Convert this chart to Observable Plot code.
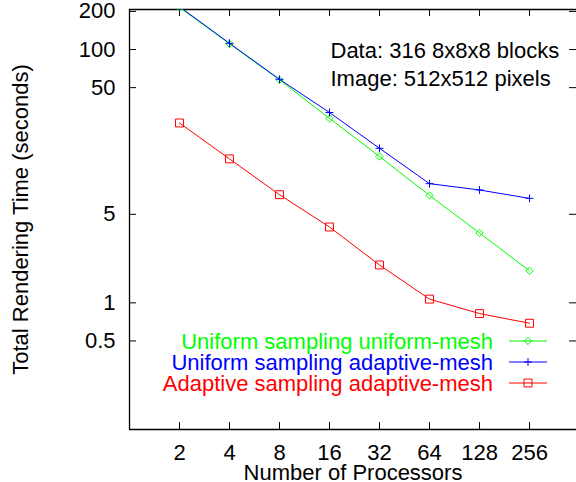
<!DOCTYPE html>
<html>
<head>
<meta charset="utf-8">
<script src="https://cdn.jsdelivr.net/npm/d3@7"></script>
<script src="https://cdn.jsdelivr.net/npm/@observablehq/plot@0.6"></script>
<style>
  html, body { margin: 0; padding: 0; background: #fff; overflow: hidden; }
</style>
</head>
<body>
<div id="chart"></div>
<script>
const processors = [2, 4, 8, 16, 32, 64, 128, 256];
const uniformUniform = [215, 111, 57.6, 28.6, 14.3, 7.05, 3.56, 1.79];
const uniformAdaptive = [218, 112, 58.2, 31.8, 16.6, 8.73, 7.78, 6.68];
const adaptiveAdaptive = [26.3, 13.7, 7.14, 3.97, 1.99, 1.07, 0.823, 0.69];
const seriesNames = ["Uniform sampling uniform-mesh", "Uniform sampling adaptive-mesh", "Adaptive sampling adaptive-mesh"];
const seriesColors = ["#00ff00", "#0000ff", "#ff0000"];
const seriesSymbols = ["diamond2", "plus", "square2"];
const xTicks = [2, 4, 8, 16, 32, 64, 128, 256];
const yTicks = [0.5, 1, 5, 50, 100, 200];
const annotation = ["Data: 316 8x8x8 blocks", "Image: 512x512 pixels"];
const xLabel = "Number of Processors";
const yLabel = "Total Rendering Time (seconds)";

const seriesValues = [uniformUniform, uniformAdaptive, adaptiveAdaptive];
const rows = seriesValues.flatMap((vals, s) =>
  vals.map((v, i) => ({series: seriesNames[s], p: processors[i], t: v, s})));

const W = 576, H = 482;
const mL = 129, mR = 0, mT = 9, mB = 53;
const plotW = W - mL - mR, plotH = H - mT - mB;
const tickLen = 7;
const font = "'Liberation Sans', Arial, Helvetica, sans-serif";
const fs = 22;

const symMap = {diamond2: d3.symbolDiamond2, plus: d3.symbolPlus, square2: d3.symbolSquare2};
const symSizes = [34, 22, 80];
const symR = symSizes.map(s => Math.sqrt(s / Math.PI));

function legend(index, scales, values, dims) {
  const g = d3.create("svg:g").attr("font-family", font).attr("font-size", fs);
  const right = dims.width - dims.marginRight;
  const bottom = dims.height - dims.marginBottom;
  seriesNames.forEach((name, i) => {
    const y = bottom - 88 + i * 21;
    g.append("text")
      .attr("x", right - 83).attr("y", y).attr("dy", "0.35em")
      .attr("text-anchor", "end").attr("fill", seriesColors[i]).text(name);
    g.append("line")
      .attr("x1", right - 67).attr("x2", right - 29).attr("y1", y).attr("y2", y)
      .attr("stroke", seriesColors[i]).attr("stroke-width", 1);
    g.append("path")
      .attr("transform", `translate(${right - 48},${y})`)
      .attr("d", d3.symbol(symMap[seriesSymbols[i]], symSizes[i])())
      .attr("fill", "none").attr("stroke", seriesColors[i]).attr("stroke-width", 1);
  });
  return g.node();
}

const chart = Plot.plot({
  width: W, height: H,
  marginLeft: mL, marginRight: mR, marginTop: mT, marginBottom: mB,
  style: {fontFamily: font, fontSize: fs + "px", color: "#000", background: "#fff"},
  x: {type: "log", base: 2, domain: [1, 491], axis: null},
  y: {type: "log", domain: [0.1, 207], axis: null},
  marks: [
    // frame (left, top, bottom)
    Plot.ruleX([1], {stroke: "#000", strokeWidth: 1.3}),
    Plot.ruleY([0.1, 207], {stroke: "#000", strokeWidth: 1.3}),
    // inward ticks
    Plot.tickX(xTicks, {x: d => d, insetTop: plotH - tickLen, stroke: "#000"}),
    Plot.tickX(xTicks, {x: d => d, insetBottom: plotH - tickLen, stroke: "#000"}),
    Plot.tickY(yTicks, {y: d => d, insetRight: plotW - tickLen, stroke: "#000"}),
    Plot.tickY(yTicks, {y: d => d, insetLeft: plotW - tickLen, stroke: "#000"}),
    // tick labels
    Plot.text(xTicks, {x: d => d, text: d => String(d), frameAnchor: "bottom", textAnchor: "middle", lineAnchor: "middle", dy: 23, fill: "#000"}),
    Plot.text(yTicks, {y: d => d, text: d => String(d), frameAnchor: "left", textAnchor: "end", lineAnchor: "middle", dx: -14, fill: "#000"}),
    // axis titles
    Plot.text([xLabel], {frameAnchor: "bottom", textAnchor: "middle", dy: 43, lineAnchor: "middle", fill: "#000"}),
    Plot.text([yLabel], {frameAnchor: "left", textAnchor: "middle", rotate: -90, dx: -109, lineAnchor: "middle", fill: "#000"}),
    // annotation
    Plot.text([annotation[0]], {frameAnchor: "top-left", dx: 201, dy: 41, textAnchor: "start", lineAnchor: "middle", fill: "#000"}),
    Plot.text([annotation[1]], {frameAnchor: "top-left", dx: 201, dy: 69, textAnchor: "start", lineAnchor: "middle", fill: "#000"}),
    // series
    Plot.line(rows, {x: "p", y: "t", z: "series", stroke: d => seriesColors[d.s], strokeWidth: 1, clip: true}),
    ...seriesNames.map((name, s) =>
      Plot.dot(rows.filter(d => d.s === s), {x: "p", y: "t", symbol: seriesSymbols[s], r: symR[s],
        stroke: seriesColors[s], fill: "none", strokeWidth: 1, clip: true})),
    legend
  ]
});
document.getElementById("chart").appendChild(chart);
</script>
</body>
</html>
